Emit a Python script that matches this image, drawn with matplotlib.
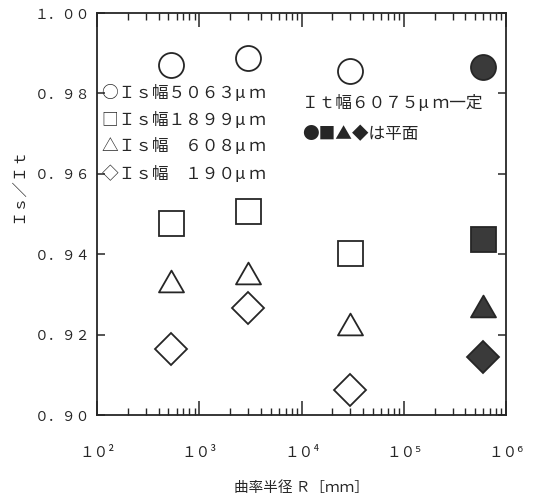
import matplotlib
matplotlib.use("Agg")
import matplotlib.pyplot as plt
from matplotlib.path import Path
from matplotlib.ticker import LogLocator, NullFormatter, FixedLocator

plt.rcParams['font.family'] = ['Noto Sans CJK JP', 'DejaVu Sans']

# curvature radius R [mm]; the last point stands for the flat surface
radius = [530, 3000, 30000]
radius_flat = 6.0e5

# Is/It for each Is width
is_5063 = [0.9871, 0.9887, 0.9855]
is_1899 = [0.9477, 0.9507, 0.9402]
is_608 = [0.9333, 0.9353, 0.9226]
is_190 = [0.9164, 0.9266, 0.9062]
flat = [0.9865, 0.9437, 0.9271, 0.9144]

legend_lines = ["○Ｉｓ幅５０６３μ ｍ", "□Ｉｓ幅１８９９μ ｍ",
                "△Ｉｓ幅　６０８μ ｍ", "◇Ｉｓ幅　１９０μ ｍ"]
legend_y = [0.98, 0.9733, 0.9667, 0.96]
note_lines = ["Ｉｔ幅６０７５μ ｍ一定", "●■▲◆は平面"]
note_y = [0.9775, 0.9697]

ytick_vals = [0.90, 0.92, 0.94, 0.96, 0.98, 1.00]
ytick_labels = ["０．９０", "０．９２", "０．９４", "０．９６", "０．９８", "１．００"]
xtick_vals = [1e2, 1e3, 1e4, 1e5, 1e6]
xtick_labels = ["１０²", "１０³", "１０⁴", "１０⁵", "１０⁶"]

ink = '#262626'
tri = Path([(0, 0.87), (-1, -0.87), (1, -0.87), (0, 0.87)], closed=True)

fig = plt.figure(figsize=(5.38, 4.99), dpi=100)
ax = fig.add_axes([97 / 538, 1 - 415 / 499, 409 / 538, 402 / 499])

styles = [('o', 18, is_5063), ('s', 18, is_1899), (tri, 18, is_608), ('D', 16.8, is_190)]
for (mk, ms, vals), fv in zip(styles, flat):
    ax.plot(radius, vals, linestyle='none', marker=mk, markersize=ms,
            mfc='white', mec=ink, mew=1.3)
    ax.plot([radius_flat], [fv], linestyle='none', marker=mk, markersize=ms,
            mfc='#3a3a3a', mec=ink, mew=1.3)

ax.set_xscale('log')
ax.set_xlim(1e2, 1e6)
ax.set_ylim(0.90, 1.00)

ax.xaxis.set_major_locator(FixedLocator(xtick_vals))
ax.set_xticklabels(xtick_labels, fontsize=10.5, color=ink)
ax.xaxis.set_minor_locator(LogLocator(base=10, subs=range(2, 10)))
ax.xaxis.set_minor_formatter(NullFormatter())
ax.set_yticks(ytick_vals)
ax.set_yticklabels(ytick_labels, fontsize=10, color=ink)

ax.tick_params(axis='x', which='major', direction='in', length=10, width=1.1,
               top=True, pad=22, colors=ink)
ax.tick_params(axis='x', which='minor', direction='in', length=5, width=1.0,
               top=True, colors=ink)
ax.tick_params(axis='y', which='major', direction='in', length=6, width=1.1,
               right=True, pad=5, colors=ink)
for sp in ax.spines.values():
    sp.set_linewidth(1.3)
    sp.set_color(ink)

tr = ax.get_yaxis_transform()
for txt, yv in zip(legend_lines, legend_y):
    ax.text(0.012, yv, txt, transform=tr, fontsize=12, color=ink,
            ha='left', va='center')
for txt, yv in zip(note_lines, note_y):
    ax.text(0.501, yv, txt, transform=tr, fontsize=12, color=ink,
            ha='left', va='center')

ax.set_xlabel("曲率半径 Ｒ［ｍｍ］", fontsize=10.5, color=ink)
ax.xaxis.set_label_coords(0.5, -0.165)
fig.text(18 / 538, 1 - 185 / 499, "Ｉｓ／Ｉｔ", rotation=90, fontsize=11,
         color=ink, ha='center', va='center')

fig.savefig("out.png", dpi=100)
